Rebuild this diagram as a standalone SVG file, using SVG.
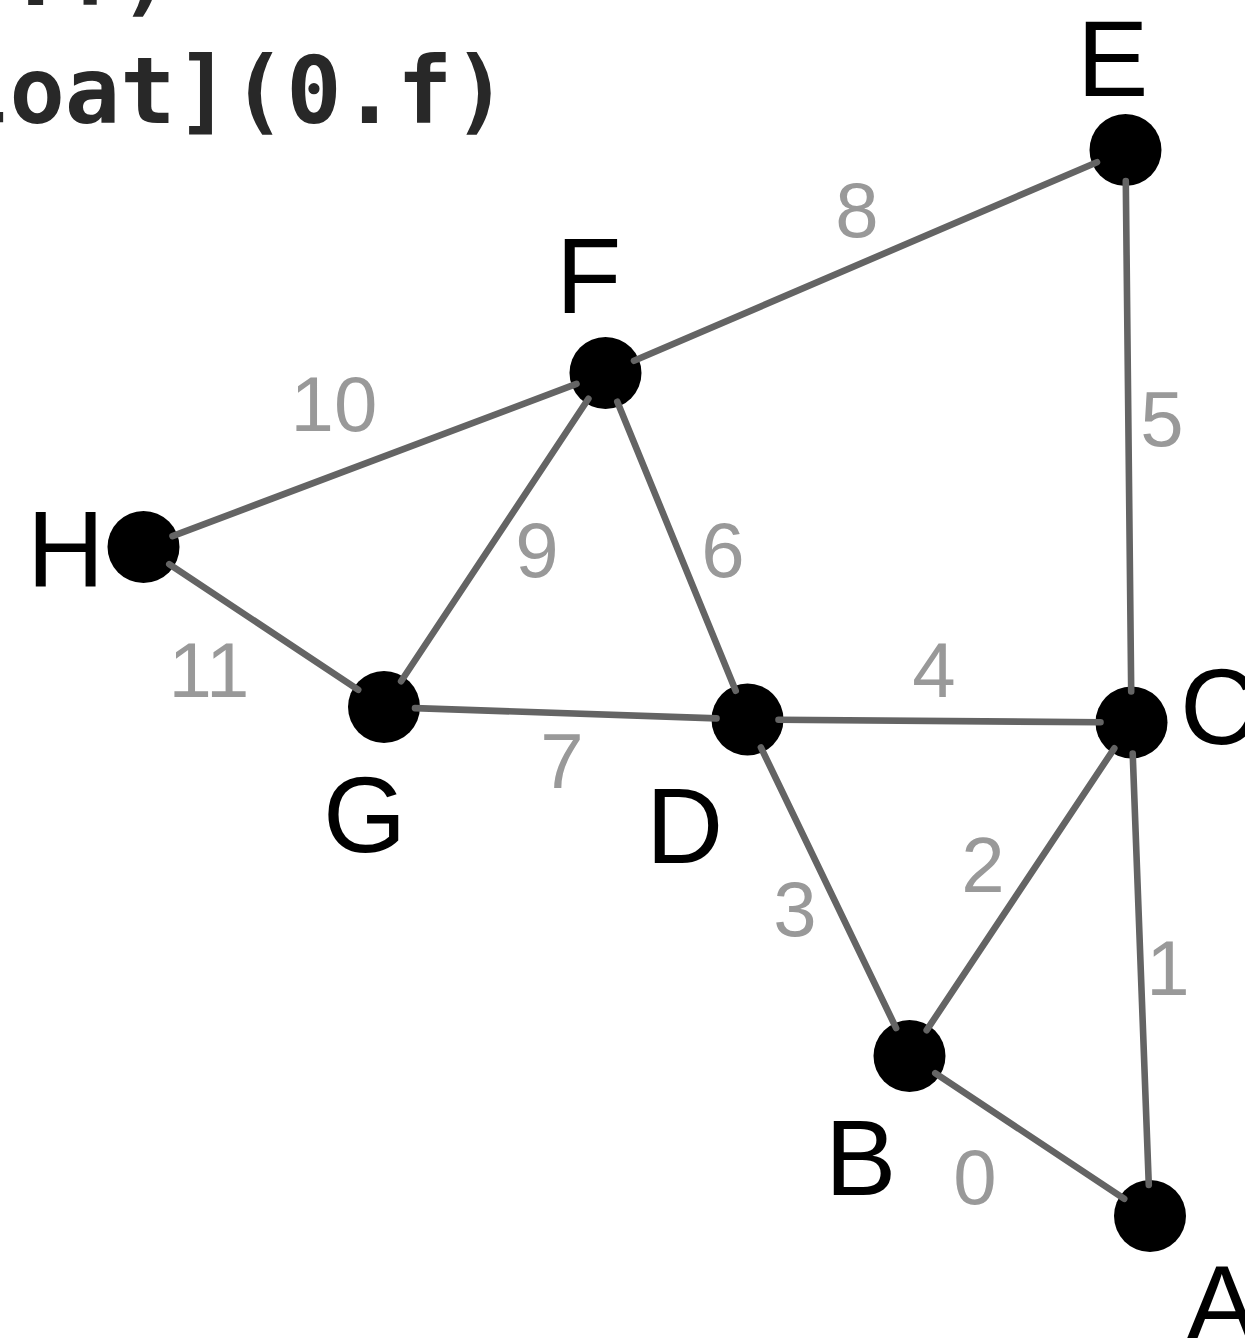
<svg xmlns="http://www.w3.org/2000/svg" width="1245" height="1338" viewBox="0 0 1245 1338">
<style>
.code{font-family:"DejaVu Sans Mono","Liberation Mono",monospace;font-weight:bold;font-size:92px;fill:#282828}
.node{fill:#000}
.lbl{font-family:"Liberation Sans",Arial,sans-serif;font-size:107px;fill:#000}
.w{font-family:"Liberation Sans",Arial,sans-serif;font-size:78px;fill:#999;text-anchor:middle}
.e{stroke:#646464;stroke-width:6.6;stroke-linecap:round;fill:none}
</style>
<rect width="1245" height="1338" fill="#fff"/>
<text class="code" x="8" y="5">.f)</text>
<text class="code" x="-46" y="123">loat](0.f)</text>
<g id="node-A"><circle class="node" cx="1150" cy="1216" r="36"/><text class="lbl" x="1186" y="1341">A</text></g>
<g id="node-B"><circle class="node" cx="909.5" cy="1056" r="36"/><text class="lbl" x="825" y="1195">B</text></g>
<g id="node-C"><circle class="node" cx="1131.5" cy="722.5" r="36"/><text class="lbl" x="1180" y="744">C</text></g>
<g id="node-D"><circle class="node" cx="747.5" cy="719.5" r="36"/><text class="lbl" x="646" y="863">D</text></g>
<g id="node-E"><circle class="node" cx="1125.5" cy="150" r="36"/><text class="lbl" x="1077" y="96">E</text></g>
<g id="node-F"><circle class="node" cx="605.5" cy="373" r="36"/><text class="lbl" x="556" y="313">F</text></g>
<g id="node-G"><circle class="node" cx="384" cy="707" r="36"/><text class="lbl" x="323" y="852">G</text></g>
<g id="node-H"><circle class="node" cx="143.5" cy="547" r="36"/><text class="lbl" x="27" y="586">H</text></g>
<g id="connectors">
<line class="e" x1="1124.2" y1="1198.8" x2="935.3" y2="1073.2"/>
<line class="e" x1="1148.8" y1="1185" x2="1132.7" y2="753.5"/>
<line class="e" x1="926.7" y1="1030.2" x2="1114.3" y2="748.3"/>
<line class="e" x1="896.1" y1="1028.1" x2="760.9" y2="747.4"/>
<line class="e" x1="1100.5" y1="722.3" x2="778.5" y2="719.7"/>
<line class="e" x1="1131.2" y1="691.5" x2="1125.8" y2="181"/>
<line class="e" x1="735.7" y1="690.8" x2="617.3" y2="401.7"/>
<line class="e" x1="716.5" y1="718.4" x2="415" y2="708.1"/>
<line class="e" x1="1097" y1="162.2" x2="634" y2="360.8"/>
<line class="e" x1="588.4" y1="398.8" x2="401.1" y2="681.2"/>
<line class="e" x1="576.5" y1="383.9" x2="172.5" y2="536.1"/>
<line class="e" x1="358.2" y1="689.8" x2="169.3" y2="564.2"/>
<text class="w" x="975" y="1204">0</text>
<text class="w" x="1168" y="995">1</text>
<text class="w" x="983" y="892">2</text>
<text class="w" x="795" y="936">3</text>
<text class="w" x="934" y="697">4</text>
<text class="w" x="1162" y="446">5</text>
<text class="w" x="723" y="577">6</text>
<text class="w" x="562" y="788">7</text>
<text class="w" x="857" y="237">8</text>
<text class="w" x="537" y="577">9</text>
<text class="w" x="334" y="431">10</text>
<text class="w" x="209" y="697">11</text>
</g>
</svg>
